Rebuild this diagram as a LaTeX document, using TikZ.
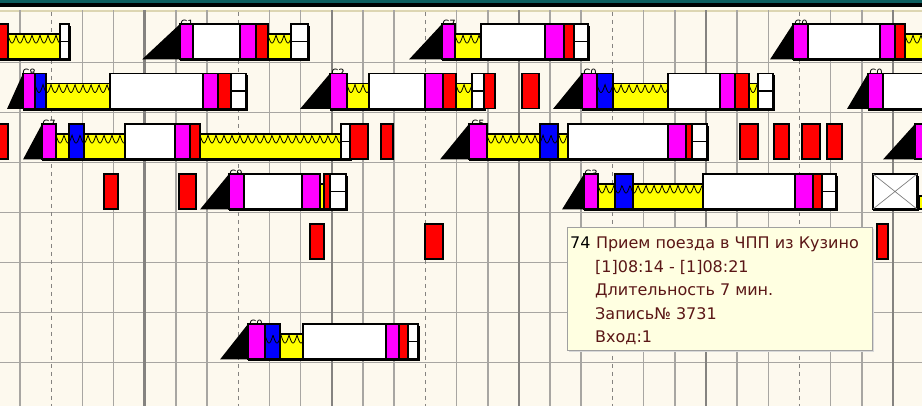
\documentclass[tikz,border=0pt]{standalone}
\usepackage{fontspec}
\setmainfont{DejaVu Sans}
\definecolor{bg}{HTML}{FDF9EE}
\definecolor{teal}{HTML}{0E5E5E}
\definecolor{gridc}{HTML}{A8A6A2}
\definecolor{gridk}{HTML}{858380}
\definecolor{gridtop}{HTML}{DDD6B2}
\definecolor{mag}{HTML}{FF00FF}
\definecolor{rd}{HTML}{FF0000}
\definecolor{blu}{HTML}{0000FF}
\definecolor{yel}{HTML}{FFFF00}
\definecolor{tipbg}{HTML}{FFFFE1}
\definecolor{tipfr}{HTML}{A0A0A0}
\definecolor{tiptx}{HTML}{5A1616}
\tikzset{
  blkline/.style={draw=black,line width=1.4pt},
  wavel/.style={draw=black,line width=0.8pt},
  gridn/.style={draw=gridc,line width=1.6pt},
  gridthick/.style={draw=gridk,line width=2.6pt},
  griddash/.style={draw=gridk,line width=1.2pt,dash pattern=on 4pt off 4pt},
  lbl/.style={font=\fontsize{10}{10}\selectfont,inner sep=0pt,text=black},
  tiptext/.style={font=\fontsize{16}{16}\selectfont,inner sep=0pt,anchor=base west,text=tiptx}
}
\newcommand{\blk}[4]{\draw[blkline,fill=#1] (#2,#4) rectangle (#3,#4+35);}
\newcommand{\tri}[3]{\fill[black] (#1,#3+35.5) -- (#2,#3) -- (#2,#3+35.5) -- cycle;}
\newcommand{\yl}[3]{\draw[blkline,fill=yel] (#1,#3+10) rectangle (#2,#3+35);}
\newcommand{\wav}[3]{\begin{scope}\clip (#1,#3+10) rectangle (#2,#3+35);
  \draw[wavel] plot[domain=#1:#2,samples=160] (\x,{#3+11+8*abs(sin(22.5*(\x-#1)))});\end{scope}}
\newcommand{\wbx}[3]{\draw[blkline,fill=white] (#1,#3) rectangle (#2,#3+35);
  \draw[blkline] (#1,#3+17.5) -- (#2,#3+17.5);}
\newcommand{\lab}[3]{\node[lbl,anchor=base] at (#1,#3+3.5) {#2};}
\newcommand{\shd}[3]{\draw[black,line width=1.6pt] (#1,#3+36.3) -- (#2+1.3,#3+36.3) -- (#2+1.3,#3+2);}
\begin{document}
\begin{tikzpicture}[x=1pt,y=-1pt]
\useasboundingbox (0,0) rectangle (922,406);
\clip (0,0) rectangle (922,406);
\fill[bg] (0,0) rectangle (922,406);
\fill[teal] (0,0) rectangle (922,3);
\fill[black] (0,3) rectangle (922,6.8);
% grid
\draw[draw=gridtop,line width=1.6pt] (0,11) -- (922,11);
\foreach \k in {1,...,7} {\draw[gridn] (0,12.5+50*\k) -- (922,12.5+50*\k);}
\foreach \i in {0,...,28} {
  \pgfmathsetmacro{\xx}{20+31.18*\i}
  \pgfmathtruncatemacro{\m}{mod(\i,6)}
  \ifnum\m=4 \draw[gridthick] (\xx,10.5) -- (\xx,406);
  \else\ifnum\m=1 \draw[griddash] (\xx,12) -- (\xx,406);
  \else \draw[gridn] (\xx,10.5) -- (\xx,406);
  \fi\fi
}
% ---------- row 1 (T=24)
\blk{rd}{-3}{8}{24} \yl{8}{60}{24} \wav{8}{60}{24} \wbx{60}{69}{24} \shd{-3}{69}{24}
\lab{187}{C1}{24} \tri{142}{180}{24} \blk{mag}{180}{193}{24} \blk{white}{193}{240}{24}
\blk{mag}{240}{256}{24} \blk{rd}{256}{268}{24} \yl{268}{291}{24} \wav{268}{291}{24}
\wbx{291}{308}{24} \shd{180}{308}{24}
\lab{449}{C7}{24} \tri{409}{442}{24} \blk{mag}{442}{455}{24} \yl{455}{481}{24} \wav{455}{481}{24}
\blk{white}{481}{545}{24} \blk{mag}{545}{564}{24} \blk{rd}{564}{574}{24} \wbx{574}{588}{24} \shd{442}{588}{24}
\lab{801}{C0}{24} \tri{770}{793}{24} \blk{mag}{793}{808}{24} \blk{white}{808}{880}{24}
\blk{mag}{880}{895}{24} \blk{rd}{895}{905}{24} \yl{905}{930}{24} \wav{905}{930}{24} \shd{793}{930}{24}
% ---------- row 2 (T=73.5)
\lab{29}{C8}{73.5} \tri{7}{23}{73.5} \blk{mag}{23}{35}{73.5} \blk{blu}{35}{46}{73.5}
\yl{46}{110}{73.5} \wav{35}{110}{73.5} \blk{white}{110}{203}{73.5} \blk{mag}{203}{218}{73.5}
\blk{rd}{218}{231}{73.5} \wbx{231}{246}{73.5} \shd{23}{246}{73.5}
\lab{338}{C2}{73.5} \tri{300}{330}{73.5} \blk{mag}{330}{347}{73.5} \yl{347}{369}{73.5} \wav{347}{369}{73.5}
\blk{white}{369}{425}{73.5} \blk{mag}{425}{443}{73.5} \blk{rd}{443}{456}{73.5}
\yl{456}{472}{73.5} \wav{456}{472}{73.5} \wbx{472}{484}{73.5} \shd{330}{484}{73.5}
\blk{rd}{484}{495}{73.5} \blk{rd}{522}{539}{73.5}
\lab{590}{C0}{73.5} \tri{553}{582}{73.5} \blk{mag}{582}{597}{73.5} \blk{blu}{597}{613}{73.5}
\yl{613}{668}{73.5} \wav{597}{668}{73.5} \blk{white}{668}{720}{73.5} \blk{mag}{720}{735}{73.5}
\blk{rd}{735}{749}{73.5} \yl{749}{758}{73.5} \wav{749}{758}{73.5} \wbx{758}{773}{73.5} \shd{582}{773}{73.5}
\lab{876}{C0}{73.5} \tri{847}{868}{73.5} \blk{mag}{868}{883}{73.5} \blk{white}{883}{930}{73.5} \shd{868}{930}{73.5}
% ---------- row 3 (T=124)
\blk{rd}{-3}{8}{124}
\lab{49}{C7}{124} \tri{23}{42}{124} \blk{mag}{42}{56}{124} \yl{56}{69}{124} \blk{blu}{69}{84}{124}
\yl{84}{125}{124} \wav{56}{125}{124} \blk{white}{125}{175}{124} \blk{mag}{175}{190}{124}
\blk{rd}{190}{200}{124} \yl{200}{341}{124} \wav{200}{341}{124} \wbx{341}{350}{124} \shd{42}{350}{124}
\blk{rd}{350}{368}{124} \blk{rd}{381}{393}{124}
\lab{478}{C5}{124} \tri{440}{469}{124} \blk{mag}{469}{487}{124} \yl{487}{540}{124} \blk{blu}{540}{558}{124}
\yl{558}{568}{124} \wav{487}{568}{124} \blk{white}{568}{668}{124} \blk{mag}{668}{686}{124}
\blk{rd}{686}{692}{124} \wbx{692}{707}{124} \shd{469}{707}{124}
\blk{rd}{740}{758}{124} \blk{rd}{774}{789}{124} \blk{rd}{802}{820}{124} \blk{rd}{827}{842}{124}
\tri{883}{915}{124} \blk{mag}{915}{930}{124}
% ---------- row 4 (T=174)
\blk{rd}{104}{118}{174} \blk{rd}{179}{196}{174}
\lab{236}{C9}{174} \tri{200}{229}{174} \blk{mag}{229}{244}{174} \blk{white}{244}{302}{174}
\blk{mag}{302}{320}{174} \yl{320}{324}{174} \blk{rd}{324}{330}{174} \wbx{330}{346}{174} \shd{229}{346}{174}
\lab{591}{C3}{174} \tri{562}{584}{174} \blk{mag}{584}{598}{174} \yl{598}{615}{174} \blk{blu}{615}{633}{174}
\yl{633}{703}{174} \wav{598}{703}{174} \blk{white}{703}{795}{174} \blk{mag}{795}{813}{174}
\blk{rd}{813}{822}{174} \wbx{822}{836}{174} \shd{584}{836}{174}
\draw[blkline,fill=white] (873,174) rectangle (917,209);
\draw[gray,line width=0.7pt] (873,174) -- (917,209) (873,209) -- (917,174);
\draw[black,line width=1.6pt] (873,210) -- (918.3,210) -- (918.3,176);
\draw[blkline,fill=yel] (919,196) rectangle (930,209);
% ---------- row 5 (T=224)
\blk{rd}{310}{324}{224} \blk{rd}{425}{443}{224} \blk{rd}{877}{888}{224}
% ---------- row 7 (T=324)
\lab{256}{C0}{324} \tri{220}{248}{324} \blk{mag}{248}{265}{324} \blk{blu}{265}{280}{324}
\yl{280}{303}{324} \wav{265}{303}{324} \blk{white}{303}{386}{324} \blk{mag}{386}{399}{324}
\blk{rd}{399}{408}{324} \wbx{408}{418}{324} \shd{248}{418}{324}
% ---------- tooltip
\fill[black!15] (569,229) rectangle (874,352);
\draw[draw=tipfr,fill=tipbg,line width=0.9pt] (567,227) rectangle (872,350);
\node[tiptext,text=black] (t0) at (570,249) {74};
\node[tiptext] (t1) at (t0.base east) [anchor=base west] {\ Прием поезда в ЧПП из Кузино};
\node[tiptext] (t2) at (595,272.5) {[1]08:14 - [1]08:21};
\node[tiptext] (t3) at (595,296) {Длительность 7 мин.};
\node[tiptext] (t4) at (595,319.5) {Запись№ 3731};
\node[tiptext] (t5) at (595,343) {Вход:1};
\end{tikzpicture}
\end{document}
